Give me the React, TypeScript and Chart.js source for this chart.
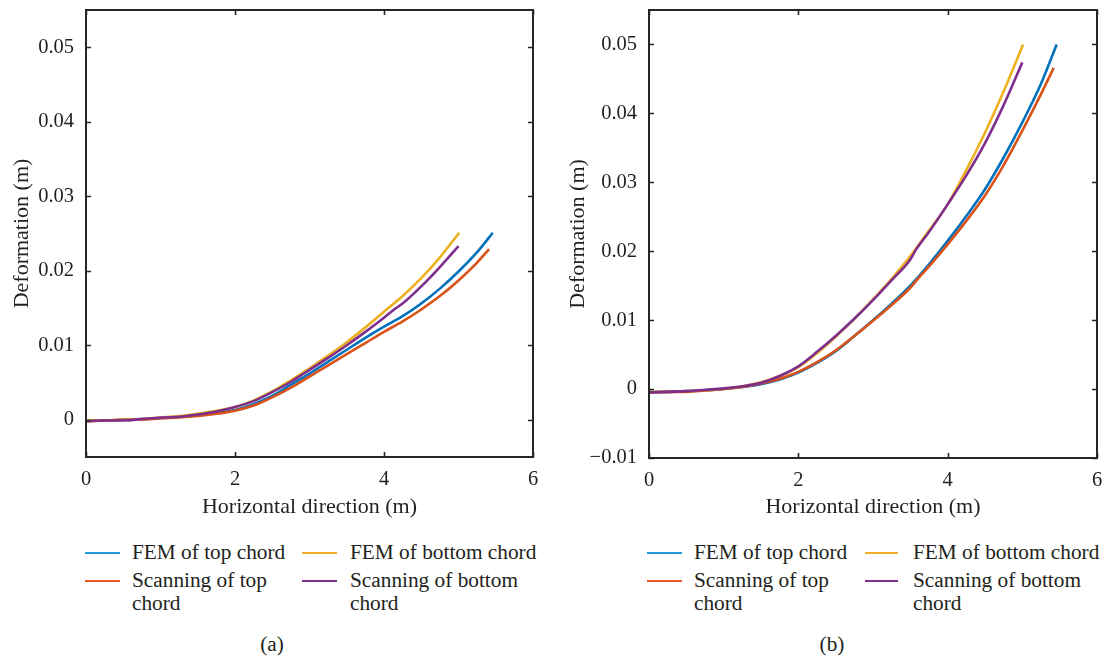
import React, { useEffect, useRef } from "react";
import { Chart, registerables } from "chart.js";

Chart.register(...registerables);

const FONT = '"Liberation Serif", "DejaVu Serif", serif';
const INK = "#231f20";

// ---- labels ----
const seriesNames = ["FEM of top chord", "Scanning of top chord", "FEM of bottom chord", "Scanning of bottom chord"];
const seriesColors = ["#0072BD", "#D95319", "#EDB120", "#7E2F8E"];
const legendColors = ["#1E9BD7", "#E4592A", "#F2AE2A", "#7E2F8E"];
const xTitle = "Horizontal direction (m)";
const yTitle = "Deformation (m)";
const xTicks = [0, 2, 4, 6];
const yTicksA = [0, 0.01, 0.02, 0.03, 0.04, 0.05];
const yTicksB = [-0.01, 0, 0.01, 0.02, 0.03, 0.04, 0.05];

// ---- panel (a) data ----
const femTopAX = [0, 0.25, 0.5, 0.75, 1, 1.25, 1.5, 1.75, 2, 2.25, 2.5, 2.75, 3, 3.25, 3.5, 3.75, 4, 4.25, 4.5, 4.75, 5, 5.25, 5.46];
const femTopAY = [-0.0001, -0.0001, 0.0, 0.0001, 0.0002, 0.0004, 0.0006, 0.0009, 0.0013, 0.0021, 0.0032, 0.0047, 0.0062, 0.0078, 0.0094, 0.011, 0.0125, 0.0139, 0.0156, 0.0176, 0.0199, 0.0225, 0.0251];
const scanTopAX = [0, 0.25, 0.5, 0.75, 1, 1.25, 1.5, 1.75, 2, 2.25, 2.5, 2.75, 3, 3.25, 3.5, 3.75, 4, 4.25, 4.5, 4.75, 5, 5.25, 5.41];
const scanTopAY = [-0.0002, -0.0001, 0.0, 0.0, 0.0002, 0.0003, 0.0005, 0.0008, 0.0012, 0.0019, 0.003, 0.0043, 0.0058, 0.0073, 0.0088, 0.0103, 0.0118, 0.0132, 0.0148, 0.0166, 0.0187, 0.0211, 0.0229];
const femBotAX = [0, 0.25, 0.5, 0.75, 1, 1.25, 1.5, 1.75, 2, 2.25, 2.5, 2.75, 3, 3.25, 3.5, 3.75, 4, 4.25, 4.5, 4.75, 5.01];
const femBotAY = [-0.0001, -0.0001, 0.0, 0.0001, 0.0003, 0.0005, 0.0008, 0.0012, 0.0017, 0.0026, 0.0038, 0.0053, 0.0069, 0.0086, 0.0104, 0.0124, 0.0145, 0.0166, 0.019, 0.0218, 0.0251];
const scanBotAX = [0, 0.25, 0.5, 0.75, 1, 1.25, 1.5, 1.75, 2, 2.25, 2.5, 2.75, 3, 3.25, 3.5, 3.75, 4, 4.15, 4.25, 4.5, 4.75, 5.0];
const scanBotAY = [-0.0002, -0.0001, -0.0001, 0.0001, 0.0003, 0.0004, 0.0007, 0.0011, 0.0017, 0.0025, 0.0037, 0.0051, 0.0067, 0.0083, 0.01, 0.0118, 0.0137, 0.0149, 0.0156, 0.0179, 0.0205, 0.0233];

// ---- panel (b) data ----
const femTopBX = [0, 0.25, 0.5, 0.75, 1, 1.25, 1.5, 1.75, 2, 2.25, 2.5, 2.75, 3, 3.25, 3.5, 3.75, 4, 4.25, 4.5, 4.75, 5, 5.25, 5.46];
const femTopBY = [-0.0004, -0.0004, -0.0003, -0.0002, 0.0, 0.0003, 0.0007, 0.0014, 0.0024, 0.0038, 0.0055, 0.0077, 0.01, 0.0124, 0.015, 0.0181, 0.0215, 0.0251, 0.029, 0.0336, 0.0387, 0.0443, 0.05];
const scanTopBX = [0, 0.25, 0.5, 0.75, 1, 1.25, 1.5, 1.75, 2, 2.25, 2.5, 2.75, 3, 3.25, 3.5, 3.6, 3.75, 4, 4.25, 4.5, 4.75, 5, 5.25, 5.42];
const scanTopBY = [-0.0005, -0.0004, -0.0004, -0.0002, 0.0, 0.0003, 0.0008, 0.0015, 0.0025, 0.0039, 0.0056, 0.0077, 0.0099, 0.0122, 0.0147, 0.016, 0.0178, 0.021, 0.0244, 0.0281, 0.0325, 0.0375, 0.0428, 0.0466];
const femBotBX = [0, 0.25, 0.5, 0.75, 1, 1.25, 1.5, 1.75, 2, 2.25, 2.5, 2.75, 3, 3.25, 3.5, 3.75, 4, 4.25, 4.5, 4.75, 5.01];
const femBotBY = [-0.0004, -0.0004, -0.0003, -0.0002, 0.0, 0.0004, 0.001, 0.0019, 0.0032, 0.0052, 0.0076, 0.0102, 0.013, 0.016, 0.0193, 0.023, 0.0268, 0.0318, 0.0372, 0.0432, 0.05];
const scanBotBX = [0, 0.25, 0.5, 0.75, 1, 1.25, 1.5, 1.75, 2, 2.25, 2.5, 2.75, 3, 3.25, 3.5, 3.58, 3.75, 4, 4.25, 4.5, 4.75, 5.0];
const scanBotBY = [-0.0005, -0.0004, -0.0003, -0.0001, 0.0001, 0.0004, 0.0009, 0.0019, 0.0033, 0.0054, 0.0077, 0.0102, 0.0129, 0.0158, 0.0188, 0.0203, 0.0228, 0.0268, 0.031, 0.0357, 0.0412, 0.0474];

const pairs = (xs: number[], ys: number[]) => xs.map((x, i) => ({ x, y: ys[i] }));

const framePlugin = {
  id: "frameTicks",
  afterDatasetsDraw(chart: any, _args: any, opts: any) {
    const { ctx, chartArea, scales } = chart;
    const { left, right, top, bottom } = chartArea;
    ctx.save();
    ctx.strokeStyle = "#262626";
    ctx.lineWidth = 1.6;
    const len = 5;
    ctx.beginPath();
    for (const v of opts.yTicks as number[]) {
      const py = Math.round(scales.y.getPixelForValue(v)) + 0.5;
      ctx.moveTo(left, py);
      ctx.lineTo(left + len, py);
      ctx.moveTo(right, py);
      ctx.lineTo(right - len, py);
    }
    for (const v of opts.xTicks as number[]) {
      const px = Math.round(scales.x.getPixelForValue(v)) + 0.5;
      ctx.moveTo(px, bottom);
      ctx.lineTo(px, bottom - len);
      ctx.moveTo(px, top);
      ctx.lineTo(px, top + len);
    }
    ctx.stroke();
    ctx.lineWidth = 2;
    ctx.strokeRect(left, top, right - left, bottom - top);
    ctx.restore();
  },
};

type PanelProps = {
  left: number;
  width: number;
  height: number;
  padLeft: number;
  padRight: number;
  padTop: number;
  yWidth: number;
  xHeight: number;
  yMin: number;
  yMax: number;
  yTicks: number[];
  series: { x: number[]; y: number[] }[];
};

function fmt(v: number) {
  if (Math.abs(v) < 1e-12) return "0";
  const s = Math.abs(v).toFixed(2);
  return (v < 0 ? "\u2212" : "") + s;
}

function Panel(p: PanelProps) {
  const ref = useRef<HTMLCanvasElement>(null);
  useEffect(() => {
    if (!ref.current) return;
    const drawOrder = [3, 1, 2, 0];
    const chart = new Chart(ref.current, {
      type: "line",
      data: {
        datasets: drawOrder.map((i) => ({
          label: seriesNames[i],
          data: pairs(p.series[i].x, p.series[i].y),
          borderColor: seriesColors[i],
          backgroundColor: seriesColors[i],
          borderWidth: 2.6,
          pointRadius: 0,
          fill: false,
          cubicInterpolationMode: "monotone" as const,
        })),
      },
      options: {
        responsive: false,
        maintainAspectRatio: false,
        animation: false,
        devicePixelRatio: 1,
        layout: {
          autoPadding: false,
          padding: { left: p.padLeft, right: p.padRight, top: p.padTop, bottom: 0 },
        },
        plugins: {
          legend: { display: false },
          tooltip: { enabled: false },
          frameTicks: { xTicks, yTicks: p.yTicks },
        } as any,
        scales: {
          x: {
            type: "linear",
            min: 0,
            max: 6,
            grid: { display: false, drawTicks: false },
            border: { display: false },
            afterBuildTicks: (s: any) => {
              s.ticks = xTicks.map((v) => ({ value: v }));
            },
            afterFit: (s: any) => {
              s.height = p.xHeight;
              s.paddingLeft = 0;
              s.paddingRight = 0;
            },
            ticks: {
              padding: 10,
              color: INK,
              font: { family: FONT, size: 20.5 },
              maxRotation: 0,
              autoSkip: false,
              callback: (v: any) => String(v),
            },
            title: {
              display: true,
              text: xTitle,
              color: INK,
              font: { family: FONT, size: 22 },
              padding: { top: 4, bottom: 4 },
            },
          },
          y: {
            type: "linear",
            min: p.yMin,
            max: p.yMax,
            grid: { display: false, drawTicks: false },
            border: { display: false },
            afterBuildTicks: (s: any) => {
              s.ticks = p.yTicks.map((v) => ({ value: v }));
            },
            afterFit: (s: any) => {
              s.width = p.yWidth;
              s.paddingTop = 0;
              s.paddingBottom = 0;
            },
            ticks: {
              padding: 12,
              color: INK,
              font: { family: FONT, size: 20.5 },
              autoSkip: false,
              callback: (v: any) => fmt(Number(v)),
            },
            title: {
              display: true,
              text: yTitle,
              color: INK,
              font: { family: FONT, size: 22 },
              padding: { top: 4, bottom: 4 },
            },
          },
        },
      },
      plugins: [framePlugin],
    });
    return () => chart.destroy();
  }, []);
  return (
    <canvas
      ref={ref}
      width={p.width}
      height={p.height}
      style={{ position: "absolute", left: p.left, top: 0, width: p.width, height: p.height }}
    />
  );
}

function Legend({ lineX: [c1a, c1b, c2a, c2b], textX: [t1, t2], caption, captionX }: any) {
  const rowY = [553, 581];
  const entries = [
    { i: 0, lx: [c1a, c1b], tx: t1, y: rowY[0], lines: ["FEM of top chord"] },
    { i: 2, lx: [c2a, c2b], tx: t2, y: rowY[0], lines: ["FEM of bottom chord"] },
    { i: 1, lx: [c1a, c1b], tx: t1, y: rowY[1], lines: ["Scanning of top", "chord"] },
    { i: 3, lx: [c2a, c2b], tx: t2, y: rowY[1], lines: ["Scanning of bottom", "chord"] },
  ];
  const textStyle: React.CSSProperties = {
    position: "absolute",
    fontFamily: FONT,
    fontSize: 21.3,
    lineHeight: "23px",
    color: INK,
    whiteSpace: "pre",
  };
  return (
    <>
      {entries.map((e) => (
        <React.Fragment key={e.i}>
          <div
            style={{
              position: "absolute",
              left: e.lx[0],
              top: e.y - 1,
              width: e.lx[1] - e.lx[0],
              height: 2,
              background: legendColors[e.i],
            }}
          />
          <div style={{ ...textStyle, left: e.tx, top: e.y - 12 }}>{e.lines.join("\n")}</div>
        </React.Fragment>
      ))}
      <div style={{ ...textStyle, left: captionX - 20, width: 40, textAlign: "center", top: 645 - 12 }}>{caption}</div>
    </>
  );
}

export default function App() {
  const seriesA = [
    { x: femTopAX, y: femTopAY },
    { x: scanTopAX, y: scanTopAY },
    { x: femBotAX, y: femBotAY },
    { x: scanBotAX, y: scanBotAY },
  ];
  const seriesB = [
    { x: femTopBX, y: femTopBY },
    { x: scanTopBX, y: scanTopBY },
    { x: femBotBX, y: femBotBY },
    { x: scanBotBX, y: scanBotBY },
  ];
  return (
    <div style={{ position: "absolute", left: 0, top: 0, width: 1103, height: 658, background: "#fff", overflow: "hidden" }}>
      <Panel
        left={0}
        width={551}
        height={524}
        padLeft={5}
        padRight={18}
        padTop={10}
        yWidth={81}
        xHeight={67}
        yMin={-0.005}
        yMax={0.055}
        yTicks={yTicksA}
        series={seriesA}
      />
      <Panel
        left={556}
        width={547}
        height={524}
        padLeft={5}
        padRight={6}
        padTop={10}
        yWidth={88}
        xHeight={66}
        yMin={-0.01}
        yMax={0.055}
        yTicks={yTicksB}
        series={seriesB}
      />
      <Legend lineX={[85, 120, 302, 337]} textX={[132, 350]} caption="(a)" captionX={272} />
      <Legend lineX={[647, 682, 865, 898]} textX={[694, 913]} caption="(b)" captionX={832} />
    </div>
  );
}
